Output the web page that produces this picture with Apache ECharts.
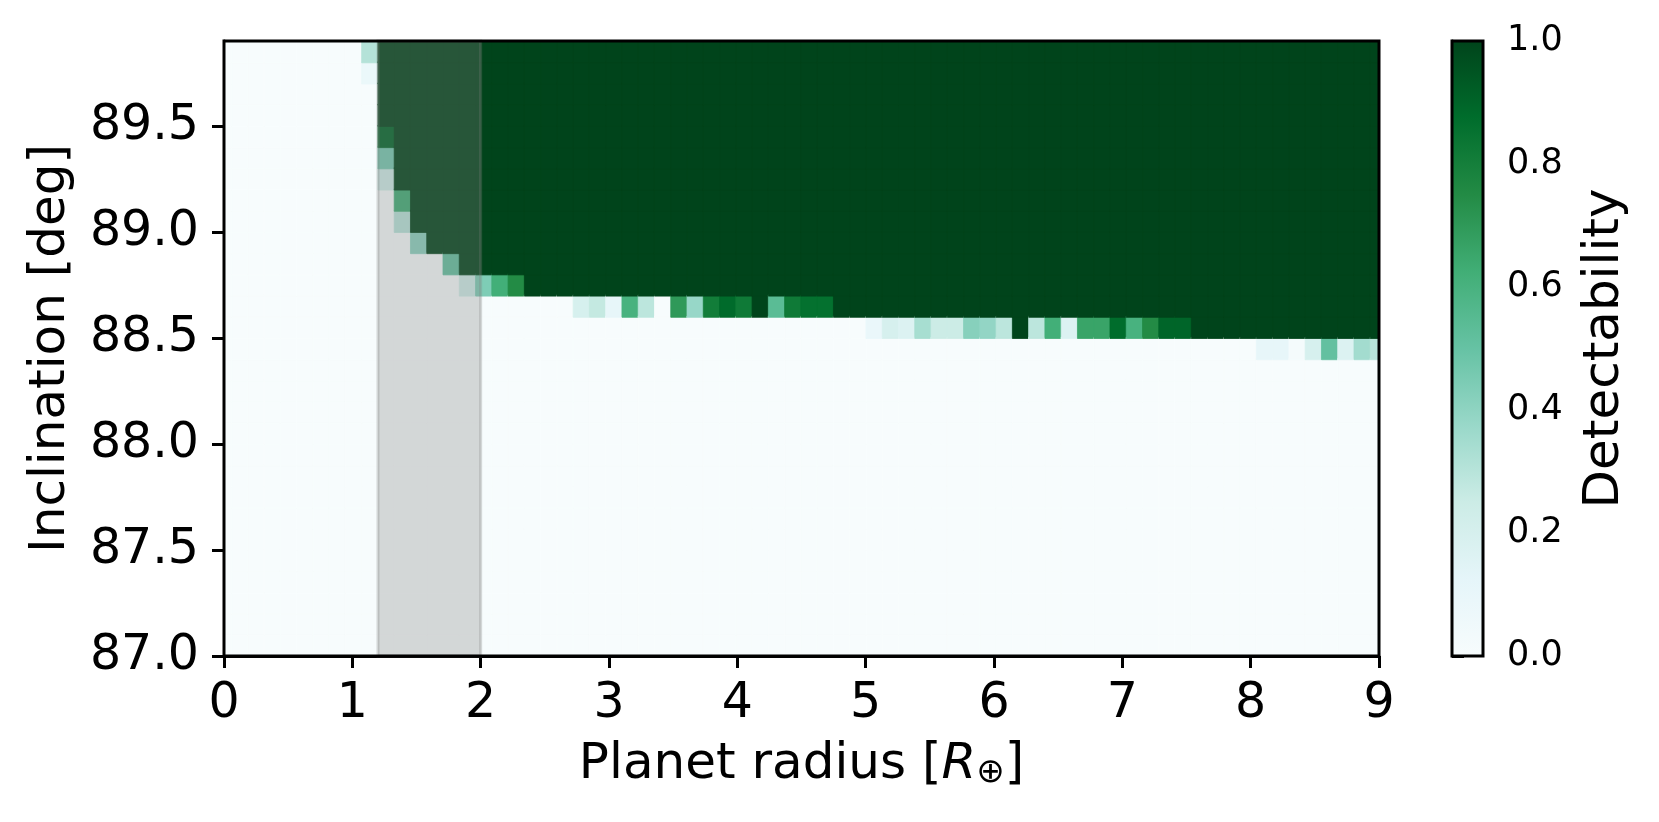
<!DOCTYPE html>
<html>
<head>
<meta charset="utf-8">
<script src="https://cdn.jsdelivr.net/npm/echarts@6/dist/echarts.min.js"></script>
<style>
html,body{margin:0;padding:0;background:#fff;}
#chart{width:1659px;height:822px;}
</style>
</head>
<body>
<div id="chart"></div>
<script>
// ---------------- data ----------------
const radiusTicks = [0, 1, 2, 3, 4, 5, 6, 7, 8, 9];
const inclTicks = [87.0, 87.5, 88.0, 88.5, 89.0, 89.5];
const cbarTicks = [0.0, 0.2, 0.4, 0.6, 0.8, 1.0];
const radiusRange = [0, 9];
const inclRange = [87.0, 89.9];
const radiusCells = 72;     // radius columns, centres running from 0 to 9
const inclStep = 0.1;       // inclination row height
// lowest inclination (cell lower edge) from which detectability is 1, per radius column
const fullFrom = [
  null, null, null, null, null, null, null, null, null, null,
  89.5, 89.2, 89.0, 88.9, 88.9, 88.8, 88.8, 88.8, 88.8,
  88.7, 88.7, 88.7, 88.7, 88.7, 88.7, 88.7, 88.7, 88.7, 88.7,
  88.7, 88.7, 88.7, 88.7, 88.7, 88.7, 88.7, 88.7, 88.7,
  88.6, 88.6, 88.6, 88.6, 88.6, 88.6, 88.6, 88.6, 88.6, 88.6, 88.6,
  88.6, 88.6, 88.6, 88.6, 88.6, 88.6, 88.6, 88.6, 88.6, 88.6, 88.6,
  88.5, 88.5, 88.5, 88.5, 88.5, 88.5, 88.5, 88.5, 88.5, 88.5, 88.5, 88.5
];
// partially detectable cells: column index, cell lower inclination, detectability
const partCol = [
  9, 9, 10, 10, 10, 11, 11, 12, 14, 15, 16, 17, 18,
  22, 23, 24, 25, 26, 28, 29, 30, 31, 32, 33, 34, 35, 36, 37,
  40, 41, 42, 43, 44, 45, 46, 47, 48, 49, 50, 51, 52, 53, 54, 55, 56, 57, 58, 59,
  64, 65, 66, 67, 68, 69, 70, 71
];
const partIncl = [
  89.8, 89.7, 89.4, 89.3, 89.2, 89.1, 89.0, 88.9, 88.8, 88.7, 88.7, 88.7, 88.7,
  88.6, 88.6, 88.6, 88.6, 88.6, 88.6, 88.6, 88.6, 88.6, 88.6, 88.6, 88.6, 88.6, 88.6, 88.6,
  88.5, 88.5, 88.5, 88.5, 88.5, 88.5, 88.5, 88.5, 88.5, 88.5, 88.5, 88.5, 88.5, 88.5, 88.5, 88.5, 88.5, 88.5, 88.5, 88.5,
  88.4, 88.4, 88.4, 88.4, 88.4, 88.4, 88.4, 88.4
];
const partVal = [
  0.31, 0.08, 0.90, 0.46, 0.24, 0.63, 0.30, 0.41, 0.51, 0.24, 0.44, 0.62, 0.75,
  0.20, 0.27, 0.11, 0.60, 0.29, 0.70, 0.38, 0.81, 0.88, 0.82, 1.00, 0.54, 0.82, 0.86, 0.86,
  0.09, 0.20, 0.17, 0.34, 0.25, 0.25, 0.42, 0.39, 0.29, 1.00, 0.29, 0.62, 0.17, 0.66, 0.66, 0.875, 0.60, 0.75, 0.90, 0.90,
  0.11, 0.11, 0.02, 0.20, 0.51, 0.17, 0.35, 0.30
];
const bandRange = [1.2, 2.0];     // shaded radius span
const cbarRange = [0, 1];
const BuGn = ['#f7fcfd', '#e5f5f9', '#ccece6', '#99d8c9', '#66c2a4', '#41ae76', '#238b45', '#006d2c', '#00441b'];

// ---------------- build table for the library ----------------
const dx = (radiusRange[1] - radiusRange[0]) / (radiusCells - 1);
const nRows = Math.round((inclRange[1] - inclRange[0]) / inclStep);
const partMap = {};
partCol.forEach((c, i) => { partMap[c + '_' + partIncl[i].toFixed(1)] = partVal[i]; });
const cells = [];
for (let k = 0; k < radiusCells; k++) {
  const xc = radiusRange[0] + k * dx;
  for (let j = 0; j < nRows; j++) {
    const lo = +(inclRange[0] + j * inclStep).toFixed(1);
    let v = 0;
    if (fullFrom[k] !== null && lo >= fullFrom[k] - 1e-9) v = 1;
    else if (partMap[k + '_' + lo.toFixed(1)] !== undefined) v = partMap[k + '_' + lo.toFixed(1)];
    cells.push([xc, lo, v]);
  }
}

const FONT = 'DejaVu Sans';
const chart = echarts.init(document.getElementById('chart'), null, {renderer: 'canvas'});

function clipTo(params, r) {
  const cs = params.coordSys;
  return echarts.graphic.clipRectByRect(r, {x: cs.x, y: cs.y, width: cs.width, height: cs.height});
}

const option = {
  backgroundColor: '#ffffff',
  animation: false,
  grid: [
    {left: 224, top: 41, width: 1155, height: 615, show: true, borderColor: '#000', borderWidth: 3,
     backgroundColor: 'transparent', z: 10, outerBoundsMode: 'none', containLabel: false},
    {left: 1452, top: 41, width: 31, height: 615, show: true, borderColor: '#000', borderWidth: 3,
     backgroundColor: 'transparent', z: 10, outerBoundsMode: 'none', containLabel: false}
  ],
  xAxis: [
    {
      type: 'value', gridIndex: 0, min: radiusRange[0], max: radiusRange[1], interval: 1,
      splitLine: {show: false},
      axisLine: {show: true, onZero: false, lineStyle: {color: '#000', width: 3}},
      axisTick: {show: true, length: 12, customValues: radiusTicks, lineStyle: {color: '#000', width: 3}},
      axisLabel: {customValues: radiusTicks, fontSize: 49, fontFamily: FONT, color: '#000', margin: 24,
                  formatter: v => String(v)},
      name: 'Planet radius [{it|R}{sub|⊕}]',
      nameLocation: 'middle', nameGap: 84, nameMoveOverlap: false,
      nameTextStyle: {fontSize: 50, fontFamily: FONT, color: '#000',
        rich: {
          it: {fontSize: 50, fontFamily: FONT, fontStyle: 'italic', color: '#000'},
          sub: {fontSize: 34, fontFamily: FONT, color: '#000', verticalAlign: 'bottom', padding: [0, 0, 0, 0]}
        }}
    },
    {type: 'value', gridIndex: 1, min: 0, max: 1, show: false}
  ],
  yAxis: [
    {
      type: 'value', gridIndex: 0, min: inclRange[0], max: inclRange[1],
      splitLine: {show: false},
      axisLine: {show: true, onZero: false, lineStyle: {color: '#000', width: 3}},
      axisTick: {show: true, length: 12, customValues: inclTicks, lineStyle: {color: '#000', width: 3}},
      axisLabel: {customValues: inclTicks, fontSize: 49, fontFamily: FONT, color: '#000', margin: 25,
                  formatter: v => Number(v).toFixed(1)},
      name: 'Inclination [deg]', nameLocation: 'middle', nameRotate: 90, nameGap: 148, nameMoveOverlap: false,
      nameTextStyle: {fontSize: 50, fontFamily: FONT, color: '#000'}
    },
    {
      type: 'value', gridIndex: 1, position: 'right', min: cbarRange[0], max: cbarRange[1],
      splitLine: {show: false},
      axisLine: {show: true, lineStyle: {color: '#000', width: 3}},
      axisTick: {show: true, length: 12, customValues: cbarTicks, lineStyle: {color: '#000', width: 3}},
      axisLabel: {customValues: cbarTicks, fontSize: 35, fontFamily: FONT, color: '#000', margin: 24,
                  formatter: v => Number(v).toFixed(1)},
      name: 'Detectability', nameLocation: 'middle', nameRotate: 90, nameGap: 97, nameMoveOverlap: false,
      nameTextStyle: {fontSize: 50, fontFamily: FONT, color: '#000'}
    }
  ],
  visualMap: {
    type: 'continuous', show: false, min: cbarRange[0], max: cbarRange[1], dimension: 2, seriesIndex: [0],
    inRange: {color: BuGn}
  },
  series: [
    {
      type: 'custom', xAxisIndex: 0, yAxisIndex: 0, z: 2,
      data: cells,
      renderItem: function (params, api) {
        const x = api.value(0), y = api.value(1);
        const p0 = api.coord([x - dx / 2, y + inclStep]);
        const p1 = api.coord([x + dx / 2, y]);
        const r = clipTo(params, {x: p0[0] - 0.6, y: p0[1] - 0.6, width: p1[0] - p0[0] + 1.2, height: p1[1] - p0[1] + 1.2});
        return r && {type: 'rect', shape: r, style: {fill: api.visual('color'), stroke: api.visual('color'), lineWidth: 0.8}};
      }
    },
    {
      type: 'custom', xAxisIndex: 0, yAxisIndex: 0, z: 3,
      data: [bandRange],
      renderItem: function (params, api) {
        const p0 = api.coord([api.value(0), inclRange[1]]);
        const p1 = api.coord([api.value(1), inclRange[0]]);
        return {type: 'rect', shape: {x: p0[0], y: p0[1], width: p1[0] - p0[0], height: p1[1] - p0[1]},
                style: {fill: 'rgba(128,128,128,0.3)', stroke: 'rgba(128,128,128,0.3)', lineWidth: 3}};
      }
    },
    {
      type: 'custom', xAxisIndex: 1, yAxisIndex: 1, z: 2,
      data: [cbarRange],
      renderItem: function (params, api) {
        const p0 = api.coord([0, api.value(1)]);
        const p1 = api.coord([1, api.value(0)]);
        const stops = BuGn.map((c, i) => ({offset: i / (BuGn.length - 1), color: c}));
        return {type: 'rect', shape: {x: p0[0], y: p0[1], width: p1[0] - p0[0], height: p1[1] - p0[1]},
                style: {fill: new echarts.graphic.LinearGradient(0, 1, 0, 0, stops)}};
      }
    }
  ]
};
chart.setOption(option);
</script>
</body>
</html>
